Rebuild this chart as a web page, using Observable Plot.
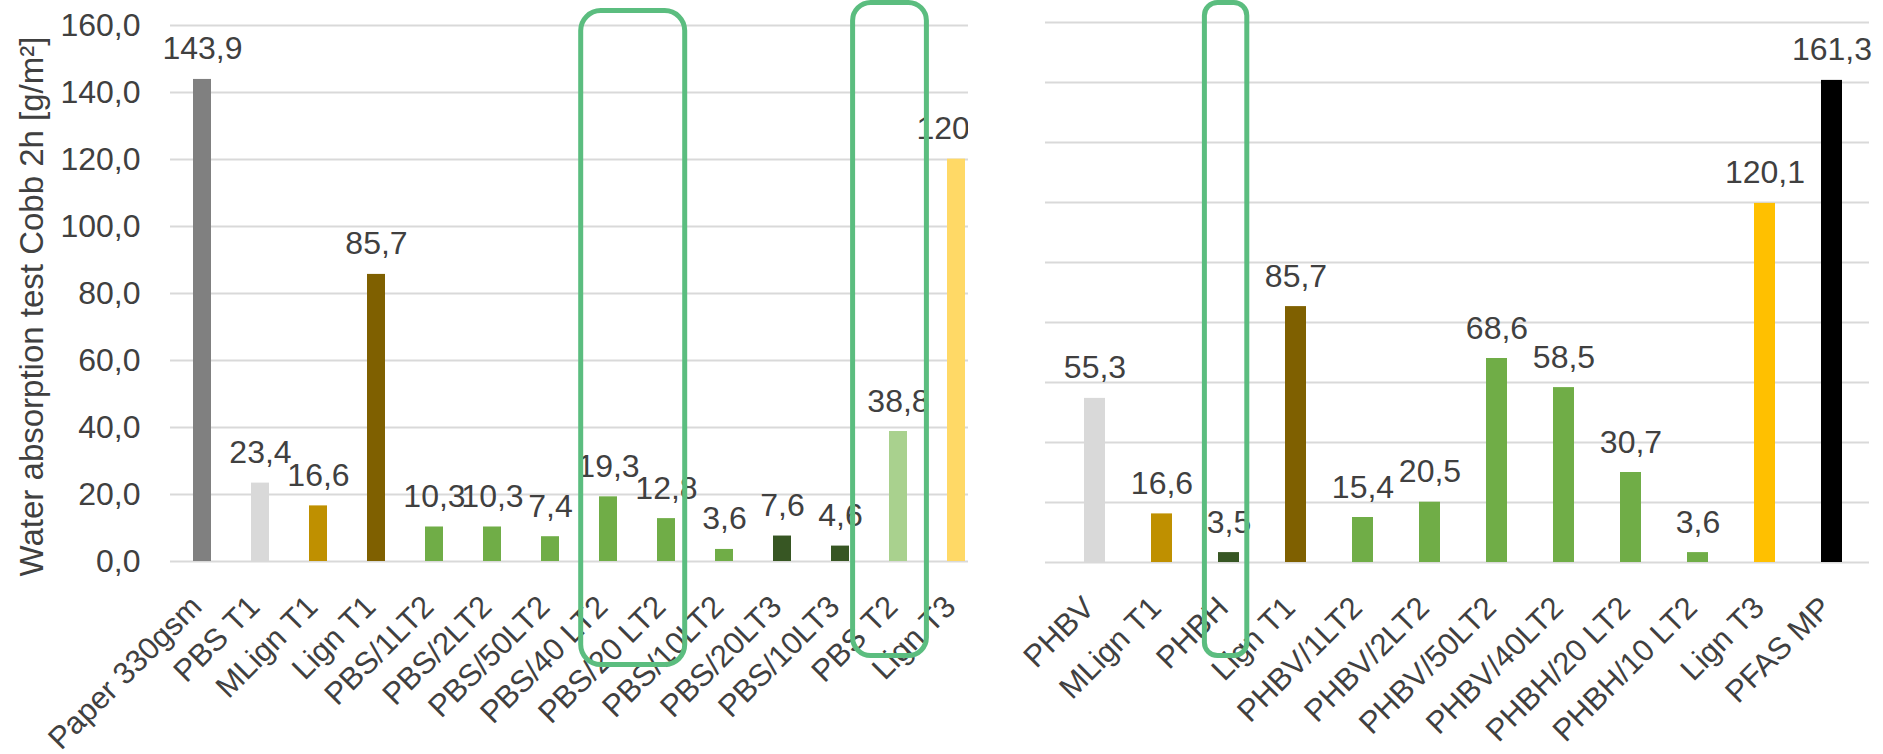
<!DOCTYPE html>
<html><head><meta charset="utf-8">
<script src="https://cdn.jsdelivr.net/npm/d3@7"></script>
<script src="https://cdn.jsdelivr.net/npm/@observablehq/plot@0.6"></script>
<style>
body{margin:0;background:#fff;}
#wrap{position:relative;width:1883px;height:754px;overflow:hidden;background:#fff;}
#left{position:absolute;left:0;top:0;width:968px;height:754px;overflow:hidden;}
#right{position:absolute;left:990px;top:0;width:893px;height:754px;overflow:hidden;}
#wrap svg{max-width:none !important;}
</style></head><body>
<div id="wrap"><div id="left"></div><div id="right"></div></div>
<script>
// ---- data (left panel) ----
const leftCategories = ["Paper 330gsm","PBS T1","MLign T1","Lign T1","PBS/1LT2","PBS/2LT2","PBS/50LT2","PBS/40 LT2","PBS/20 LT2","PBS/10LT2","PBS/20LT3","PBS/10LT3","PBS T2","Lign T3"];
const leftValues = [143.9,23.4,16.6,85.7,10.3,10.3,7.4,19.3,12.8,3.6,7.6,4.6,38.8,120.1];
const leftColors = ["#808080","#d9d9d9","#bf9000","#7f6000","#70ad47","#70ad47","#70ad47","#70ad47","#70ad47","#70ad47","#375623","#375623","#a9d18e","#ffd966"];
const leftTicks = [0,20,40,60,80,100,120,140,160];
// ---- data (right panel) ----
const rightCategories = ["PHBV","MLign T1","PHBH","Lign T1","PHBV/1LT2","PHBV/2LT2","PHBV/50LT2","PHBV/40LT2","PHBH/20 LT2","PHBH/10 LT2","Lign T3","PFAS MP"];
const rightLabels = [55.3,16.6,3.5,85.7,15.4,20.5,68.6,58.5,30.7,3.6,120.1,161.3];
const rightHeights = [54.7,16.2,3.3,85.3,15.0,20.1,68.0,58.3,30.0,3.3,119.7,160.7];
const rightColors = ["#d9d9d9","#bf9000","#375623","#7f6000","#70ad47","#70ad47","#70ad47","#70ad47","#70ad47","#70ad47","#ffc000","#000000"];
const rightTicks = [0,20,40,60,80,100,120,140,160,180];
const yTitle = "Water absorption test Cobb 2h [g/m²]";
// highlight boxes (category, value extent)
const leftBox1 = [{x: "PBS/40 LT2", y1: -30.9, y2: 164.3}];
const leftBox2 = [{x: "PBS T2", y1: -28.2, y2: 166.7}];
const rightBox = [{x: "PHBH", y1: -31.2, y2: 186.5}];

const fmt = d => d.toFixed(1).replace(".", ",");
const textColor = "#404040";
const gridColor = "#d9d9d9";
const boxColor = "#5bbd7f";
const font = "'Liberation Sans', Arial, sans-serif";

const leftData = leftCategories.map((c, i) => ({cat: c, value: leftValues[i], color: leftColors[i]}));
const rightData = rightCategories.map((c, i) => ({cat: c, value: rightHeights[i], label: rightLabels[i], color: rightColors[i]}));

const left = Plot.plot({
  width: 990, height: 754,
  marginLeft: 170, marginRight: 2, marginTop: 25, marginBottom: 193,
  style: {fontFamily: font, color: textColor, background: "transparent", maxWidth: "none"},
  x: {domain: leftCategories, paddingInner: 0.69, paddingOuter: 0.345, label: null},
  y: {domain: [0, 160], label: null},
  marks: [
    Plot.gridY(leftTicks, {stroke: gridColor, strokeOpacity: 1, strokeWidth: 2}),
    Plot.axisY(leftTicks, {tickSize: 0, tickPadding: 30, fontSize: 32, tickFormat: fmt, label: null}),
    Plot.axisX({tickSize: 0, tickRotate: -45, tickPadding: 40, dx: -6, fontSize: 31, label: null}),
    Plot.barY(leftData, {x: "cat", y: "value", fill: "color"}),
    Plot.text(leftData, {x: "cat", y: "value", text: d => fmt(d.value), dy: -20, lineAnchor: "bottom", fontSize: 32, fill: textColor}),
    Plot.text([yTitle], {frameAnchor: "left", rotate: -90, textAnchor: "middle", lineAnchor: "middle", dx: -138, dy: 13, fontSize: 33, fill: textColor}),
    Plot.barY(leftBox1, {x: "x", y1: "y1", y2: "y2", fill: "none", stroke: boxColor, strokeWidth: 5, rx: 20, insetLeft: -18.3, insetRight: -67.7}),
    Plot.barY(leftBox2, {x: "x", y1: "y1", y2: "y2", fill: "none", stroke: boxColor, strokeWidth: 5, rx: 18, insetLeft: -36.4, insetRight: -19.4})
  ]
});
document.getElementById("left").appendChild(left);

const right = Plot.plot({
  width: 893, height: 754,
  marginLeft: 55, marginRight: 14, marginTop: 22, marginBottom: 192,
  style: {fontFamily: font, color: textColor, background: "transparent", maxWidth: "none"},
  x: {domain: rightCategories, range: [66.6, 880], paddingInner: 0.68, paddingOuter: 0.34, label: null},
  y: {domain: [0, 180], label: null, axis: null},
  marks: [
    Plot.gridY(rightTicks, {stroke: gridColor, strokeOpacity: 1, strokeWidth: 2}),
    Plot.axisX({tickSize: 0, tickRotate: -45, tickPadding: 40, dx: -6, fontSize: 31, label: null}),
    Plot.barY(rightData, {x: "cat", y: "value", fill: "color"}),
    Plot.text(rightData, {x: "cat", y: "value", text: d => fmt(d.label), dy: -20, lineAnchor: "bottom", fontSize: 32, fill: textColor}),
    Plot.barY(rightBox, {x: "x", y1: "y1", y2: "y2", fill: "none", stroke: boxColor, strokeWidth: 5, rx: 13, insetLeft: -13.6, insetRight: -7.8})
  ]
});
document.getElementById("right").appendChild(right);
</script>
</body></html>
